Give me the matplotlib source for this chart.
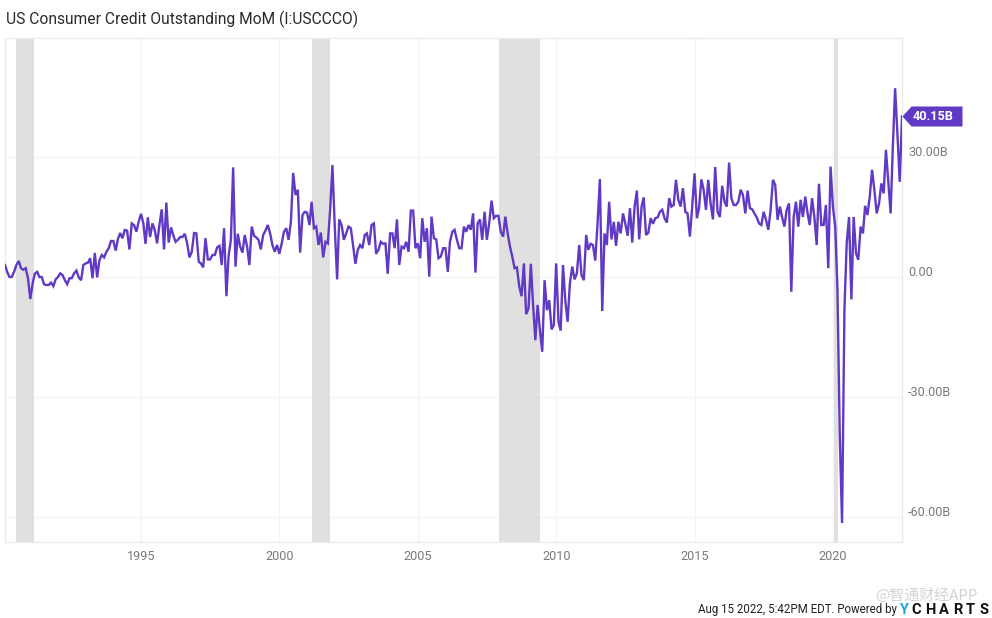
import matplotlib
matplotlib.use('Agg')
import matplotlib.pyplot as plt
import matplotlib.dates as mdates
from matplotlib.transforms import offset_copy
import pandas as pd

PURPLE = '#6039c4'
GRID = '#f4f4f4'
EDGE = '#ebebeb'
TICK = '#7a7a7a'

# billions, monthly from Jan 1990 to Jun 2022
credit_mom = [
    3, 1.3, 0, 0, 1.3, 3, 4, 2.2, 1.8, 2.2,
    -0.3, -5.5, -1.6, 0.8, 1.3, 0, 0, -1.8, -2, -2,
    -1.4, -2.3, -0.6, 0, 0.9, 0.5, -0.8, -1.8, -0.3, -0.3,
    0.9, 1.6, -0.1, -0.8, 3, 3.4, 3.6, 4.7, -0.3, 6,
    -0.1, 4.2, 5.5, 4.9, 6.3, 7.2, 9, 9, 6.6, 9.4,
    11, 9.7, 11.75, 11.6, 6.9, 13.4, 13, 11.3, 13.8, 15.8,
    13.4, 8.3, 14.9, 10, 13.4, 11.8, 8.4, 13, 16.9, 6.9,
    18.6, 8.6, 12.4, 10.5, 8.8, 9.3, 10, 10, 10.8, 8.4,
    4.9, 6.3, 11, 10.9, 3.8, 3.4, 2.4, 9.7, 4.4, 4.4,
    5.5, 5.5, 7.4, 7.8, 3, 12.2, -4.8, 5.1, 9.3, 27.4,
    2.6, 10.8, 7.6, 6.1, 10.5, 7.6, 3, 12.6, 10.3, 9.9,
    9.3, 6.9, 10.5, 11.6, 13, 10.9, 8, 6.3, 8, 5.8,
    8.4, 11.3, 12.2, 9.3, 13.8, 26, 20.5, 21.8, 6.1, 15.5,
    16.3, 16.1, 13, 18.8, 12.2, 12.6, 8, 11.1, 4.9, 8.8,
    8.4, 16.8, 28, 12.6, -0.6, 14.4, 13, 9.3, 10.9, 12.6,
    12.2, 7.6, 3.3, 6.8, 8, 7.2, 10.5, 10.9, 8, 13,
    13.4, 5.8, 6.8, 8.8, 8.3, 8.4, 0.8, 10.9, 10.9, 7.2,
    14.4, 3, 7.6, 7.2, 8.8, 6.3, 16.6, 16.6, 7.2, 8.4,
    4.7, 14.7, 8.8, 12.2, 0.1, 15.1, 9.7, 9.4, 4.7, 5.1,
    7.2, 7.2, 1.3, 8.8, 11.3, 11.8, 9.3, 7.2, 7.2, 12.6,
    11.3, 13, 11.8, 15.9, 1.1, 13.4, 14.4, 9.3, 16.3, 9.3,
    13.4, 19.1, 14.7, 15.3, 15.3, 11.3, 10.1, 15.1, 10.9, 7.6,
    5.1, 2.2, 2.4, -2.4, -4.8, 3.4, -9.3, -7.8, 3.3, -6.6,
    -15.8, -7, -13.3, -18.7, -0.8, -8.3, -5.8, -13.1, -12, 3.4,
    -11.2, -13.4, 3, -5.8, -11.2, -1.6, 2.6, -0.6, 0.9, 8,
    0.5, -0.8, 10.5, 6.8, 8.3, 8, 4.1, 13.4, 24.5, -8.5,
    10.9, 8, 18.8, 9.4, 13.8, 7.8, 13.8, 10.9, 15.9, 13.4,
    10.3, 17.2, 8.6, 17.6, 21.6, 9.4, 17.6, 19.9, 10.5, 11.1,
    14.7, 13.3, 14.7, 14.9, 16.3, 16.8, 14.7, 13.6, 19.7, 17.6,
    18, 24.3, 19.3, 17.6, 22.2, 16.3, 15.9, 10.1, 17.6, 25.9,
    14.7, 17.2, 24.4, 21.8, 16.8, 24.3, 18.4, 14.4, 27.5, 16.3,
    15, 22.8, 18.8, 17.6, 28.6, 19.7, 18, 18, 18.8, 21.8,
    20.5, 15.9, 21.6, 17.2, 16.9, 15.9, 14.9, 13.4, 13, 16.3,
    14.3, 11.8, 16.8, 24.3, 23, 14.3, 17.6, 15, 12.6, 16.8,
    18.4, -3.7, 15, 18.8, 12.6, 19.3, 15, 20.1, 15.9, 13,
    19.7, 15.1, 8, 23.3, 13, 13, 18, 2.2, 27.6, 17.6,
    12.6, -3, -40, -61.5, -8.3, 8.4, 15, -5.6, 15, 5.9,
    4.3, 12.6, 10.9, 17.8, 15.5, 20, 26.8, 21.8, 15.9, 18.4,
    23.4, 20.9, 31.8, 24, 15.9, 32, 47.2, 36, 23.8, 40.15,
]
dates = pd.date_range('1990-01-31', periods=len(credit_mom), freq='ME')

recession_start = ['1990-07-01', '2001-03-01', '2007-12-01', '2020-01-10']
recession_end = ['1991-02-20', '2001-11-01', '2009-06-01', '2020-03-10']

y_ticks = [30, 0, -30, -60]
y_labels = ['30.00B', '0.00', '-30.00B', '-60.00B']
x_years = [1995, 2000, 2005, 2010, 2015, 2020]

W, H = 992, 618
fig = plt.figure(figsize=(W / 100, H / 100), dpi=100)
plt.rcParams['font.family'] = ['Roboto', 'DejaVu Sans']
ax = fig.add_axes([5 / W, 1 - 542 / H, 897 / W, 504 / H])

for start, end in zip(recession_start, recession_end):
    ax.axvspan(pd.Timestamp(start), pd.Timestamp(end), color='#e0e0e0', lw=0, zorder=1)

ax.plot(dates, credit_mom, color=PURPLE, lw=1.7, solid_joinstyle='miter', zorder=3)

ax.set_xlim(dates[0], dates[-1])
ax.set_ylim(-66.25, 59.75)

ax.set_xticks([pd.Timestamp(f'{y}-01-01') for y in x_years])
ax.xaxis.set_major_formatter(mdates.DateFormatter('%Y'))
ax.set_yticks(y_ticks)
ax.set_yticklabels(y_labels)
ax.yaxis.tick_right()
ax.tick_params(axis='both', length=0, labelcolor=TICK, labelsize=9.1)
ax.tick_params(axis='x', pad=6)
ax.tick_params(axis='y', pad=4.5)
for lab in ax.get_yticklabels():
    lab.set_va('baseline')
    lab.set_transform(offset_copy(lab.get_transform(), fig=fig, y=0.7, units='points'))
ax.grid(True, color=GRID, lw=1, zorder=0)
ax.set_axisbelow(True)
for side in ax.spines:
    ax.spines[side].set_color(EDGE)
    ax.spines[side].set_linewidth(1)

# last value badge, drawn as one marker so the tip sits on the last point
badge = [(0, 0), (9, 10), (60, 10), (60, -10), (9, -10), (0, 0)]
ax.plot(dates[-1], credit_mom[-1], marker=badge, ms=86.4, color=PURPLE, mew=0, clip_on=False, zorder=4)
ax.annotate(f'{credit_mom[-1]:.2f}B', xy=(dates[-1], credit_mom[-1]), xytext=(7.5, 0),
            textcoords='offset points', ha='left', va='center', color='white',
            fontsize=9.2, fontweight='bold', annotation_clip=False, zorder=5)

fig.text(6 / W, 1 - 19 / H, 'US Consumer Credit Outstanding MoM (I:USCCCO)', ha='left', va='center',
         fontsize=11.25, color='#2b2b2b')
fig.text(897 / W, 1 - 609 / H, 'Aug 15 2022, 5:42PM EDT. Powered by', ha='right', va='center',
         fontsize=8.3, color='#222222')
fig.text(899.5 / W, 1 - 609.5 / H, 'Y', ha='left', va='center', fontsize=10.5, fontweight='bold', color='#19a7dc')

# logo letters are spaced out by hand
logo_x = 911
renderer = fig.canvas.get_renderer()
for letter in 'CHARTS':
    t = fig.text(logo_x / W, 1 - 609.5 / H, letter, ha='left', va='center', fontsize=10.5, fontweight='bold',
                 color='#111111')
    logo_x += t.get_window_extent(renderer).width + 4

fig.text(875 / W, 1 - 595.5 / H, '@智通财经APP', ha='left', va='center', fontsize=10.8, color='#c8c8c8',
         family=['Noto Sans CJK SC', 'DejaVu Sans'], alpha=0.8)

fig.savefig('out.png', dpi=100, facecolor='white')
